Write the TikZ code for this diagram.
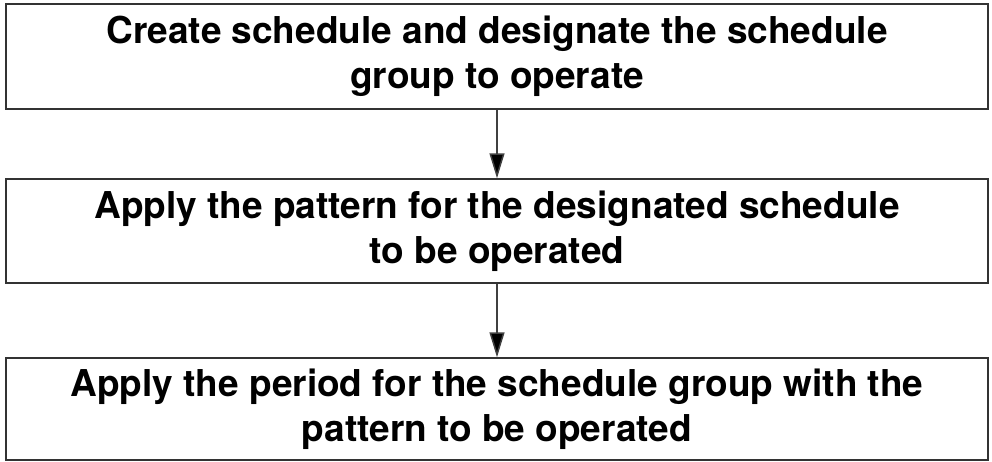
\documentclass[tikz,border=0pt]{standalone}
\usepackage{fontspec}
\setmainfont{TeX Gyre Heros}
\usetikzlibrary{arrows.meta}
\tikzset{
  stepbox/.style={draw=black!80,line width=1.5pt,minimum width=982pt,align=center,
    font=\fontsize{37pt}{45pt}\selectfont\bfseries,inner sep=0pt},
}
\begin{document}
\begin{tikzpicture}[x=1pt,y=-1pt,>={Triangle[length=25pt,width=15pt,fill=black]}]
\useasboundingbox (0,0) rectangle (992,461);
\node[stepbox,minimum height=105pt] (S1) at (497,56.5){Create schedule and designate the schedule\\group to operate};
\node[stepbox,minimum height=104pt] (S2) at (497,231){Apply the pattern for the designated schedule\\to be operated};
\node[stepbox,minimum height=102pt] (S3) at (497,409){Apply the period for the schedule group with the\\pattern to be operated};
\draw[->,line width=1.5pt,draw=black!75](S1) -- (S2);
\draw[->,line width=1.5pt,draw=black!75](S2) -- (S3);
\end{tikzpicture}
\end{document}
